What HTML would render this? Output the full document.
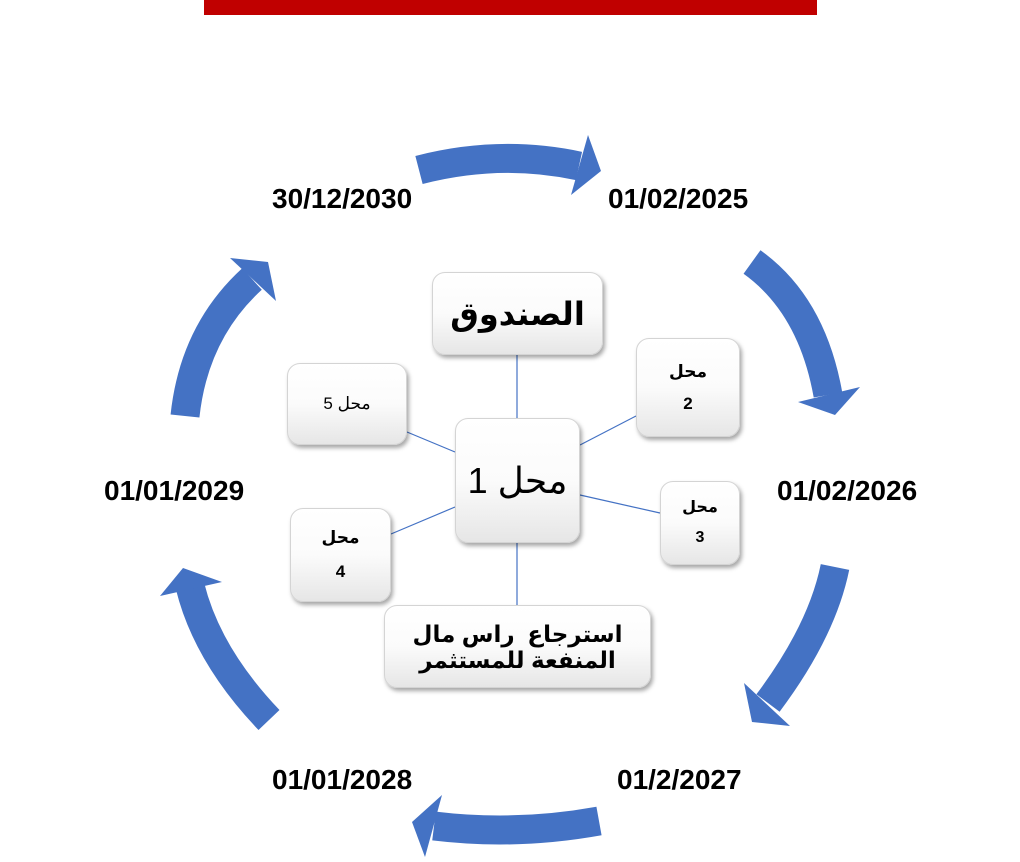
<!DOCTYPE html>
<html><head><meta charset="utf-8"><style>
body{margin:0;width:1020px;height:862px;background:#fff;position:relative;overflow:hidden;font-family:"Liberation Sans","DejaVu Sans",sans-serif}
.bar{position:absolute;left:204px;top:0;width:613px;height:15px;background:#c00000}
.d{position:absolute;font-weight:bold;font-size:28px;color:#000;line-height:30px;white-space:nowrap}
.b{position:absolute;box-sizing:border-box;border:1px solid #d4d4d4;border-radius:13px;background:linear-gradient(#ffffff 0%,#fbfbfb 50%,#e6e6e6 100%);box-shadow:2px 3px 4px rgba(0,0,0,.35);display:flex;flex-direction:column;align-items:center;justify-content:center;text-align:center;color:#000}
svg{position:absolute;left:0;top:0}
</style></head><body>
<div class="bar"></div>
<svg width="1020" height="862">
<g fill="none" stroke="#4472c4" stroke-width="29">
<path d="M419,170 Q500,149 579,166"/>
<path d="M752,262 Q812,305 828,395"/>
<path d="M835,567 Q822,631 768,703"/>
<path d="M599,821 Q516,836 434,826"/>
<path d="M269,720 Q207,655 190,586"/>
<path d="M185,416 Q194,332 252,279"/>
</g>
<g fill="#4472c4">
<polygon points="588,135 601,171 571,195"/>
<polygon points="798,402 835,415 860,387"/>
<polygon points="744,683 752,722 790,726"/>
<polygon points="442,795 412,822 425,857"/>
<polygon points="160,596 183,568 222,582"/>
<polygon points="230,258 268,262 276,301"/>
</g>
<g stroke="#4472c4" stroke-width="1.2">
<line x1="517" y1="355" x2="517" y2="418"/>
<line x1="517" y1="543" x2="517" y2="605"/>
<line x1="407" y1="432" x2="455" y2="452"/>
<line x1="580" y1="445" x2="636" y2="416"/>
<line x1="580" y1="495" x2="660" y2="513"/>
<line x1="391" y1="534" x2="455" y2="507"/>
</g>
</svg>
<div class="d" style="left:272px;top:184px">30/12/2030</div>
<div class="d" style="left:608px;top:184px">01/02/2025</div>
<div class="d" style="left:777px;top:476px">01/02/2026</div>
<div class="d" style="left:104px;top:476px">01/01/2029</div>
<div class="d" style="left:272px;top:765px">01/01/2028</div>
<div class="d" style="left:617px;top:765px">01/2/2027</div>

<div class="b" style="left:432px;top:272px;width:171px;height:83px;font-size:32px;font-weight:bold" dir="rtl">الصندوق</div>
<div class="b" style="left:287px;top:363px;width:120px;height:82px;font-size:17px" dir="rtl">محل 5</div>
<div class="b" style="left:636px;top:338px;width:104px;height:99px;font-size:17px;font-weight:bold;line-height:32px" dir="rtl"><div>محل</div><div>2</div></div>
<div class="b" style="left:455px;top:418px;width:125px;height:125px;font-size:36px" dir="rtl">محل 1</div>
<div class="b" style="left:660px;top:481px;width:80px;height:84px;font-size:16px;font-weight:bold;line-height:30px" dir="rtl"><div>محل</div><div>3</div></div>
<div class="b" style="left:290px;top:508px;width:101px;height:94px;font-size:17px;font-weight:bold;line-height:34px" dir="rtl"><div>محل</div><div>4</div></div>
<div class="b" style="left:384px;top:605px;width:267px;height:83px;font-size:23px;font-weight:bold;line-height:26px" dir="rtl"><div>استرجاع&nbsp; راس مال</div><div>المنفعة للمستثمر</div></div>
</body></html>
